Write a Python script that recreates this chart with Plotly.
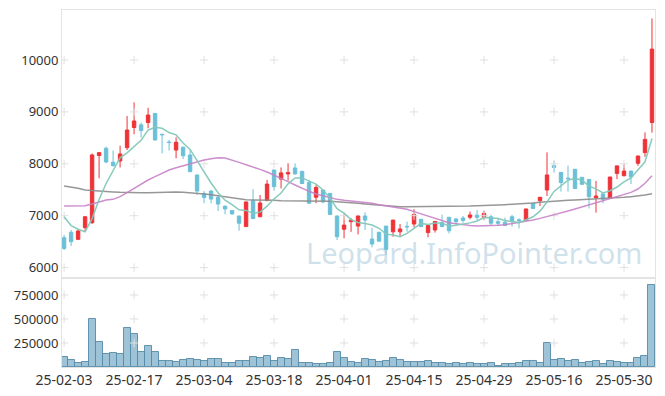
import plotly.graph_objects as go

dates = [
    "25-02-03","25-02-04","25-02-05","25-02-06","25-02-07","25-02-10","25-02-11","25-02-12","25-02-13","25-02-14",
    "25-02-17","25-02-18","25-02-19","25-02-20","25-02-21","25-02-24","25-02-25","25-02-26","25-02-27","25-02-28",
    "25-03-04","25-03-05","25-03-06","25-03-07","25-03-10","25-03-11","25-03-12","25-03-13","25-03-14","25-03-17",
    "25-03-18","25-03-19","25-03-20","25-03-21","25-03-24","25-03-25","25-03-26","25-03-27","25-03-28","25-03-31",
    "25-04-01","25-04-02","25-04-03","25-04-04","25-04-07","25-04-08","25-04-09","25-04-10","25-04-11","25-04-14",
    "25-04-15","25-04-16","25-04-17","25-04-18","25-04-21","25-04-22","25-04-23","25-04-24","25-04-25","25-04-28",
    "25-04-29","25-04-30","25-05-02","25-05-07","25-05-08","25-05-09","25-05-12","25-05-13","25-05-14","25-05-15",
    "25-05-16","25-05-19","25-05-20","25-05-21","25-05-22","25-05-23","25-05-26","25-05-27","25-05-28","25-05-29",
    "25-05-30","25-06-02","25-06-04","25-06-05","25-06-09",
]

opens = [6577,6680,6545,6770,6866,8160,8300,8030,8055,8310,
         8700,8750,8795,8970,8570,8420,8265,8320,8170,7785,
         7430,7475,7350,7185,7100,6995,6790,7290,6980,7290,
         7880,7705,7805,7920,7855,7640,7355,7495,7430,6995,
         6740,6885,6800,6995,6550,6680,6800,6690,6690,6795,
         6840,6930,6675,6725,6870,6970,6935,6955,6970,7010,
         6970,6980,6885,6875,6980,6920,6915,7240,7290,7495,
         7965,7835,7725,7895,7740,7700,7350,7420,7335,7815,
         7770,7860,8010,8215,8795]
highs = [6630,6725,6735,6995,8200,8220,8330,8255,8350,8920,
         9185,8795,9080,8975,8575,8460,8510,8330,8265,7790,
         7475,7495,7400,7190,7110,7000,7270,7510,7400,7690,
         7885,7930,8010,8010,7860,7690,7590,7500,7435,7000,
         7035,6950,7000,7065,6770,6690,6805,6920,6840,6885,
         7125,6935,6815,6895,7020,6975,6960,6995,7080,7110,
         7095,7015,6950,6965,7015,6950,7135,7245,7360,8220,
         8060,7840,7965,7900,7745,7705,7670,7425,7750,7965,
         7990,7865,8155,8605,10800]
lows = [6340,6415,6530,6690,6840,7720,8010,7945,7930,8265,
        8570,8510,8685,8445,8200,8255,8105,8090,7835,7400,
        7240,7240,7090,7025,7020,6710,6785,6940,6975,7285,
        7480,7525,7675,7790,7610,7230,7240,7240,7020,6530,
        6565,6690,6640,6725,6390,6505,6245,6595,6595,6690,
        6775,6780,6585,6675,6785,6660,6830,6865,6930,6915,
        6915,6820,6800,6800,6790,6755,6900,7135,7185,7380,
        7830,7465,7465,7520,7600,7140,7060,7240,7330,7705,
        7760,7610,7960,8135,8600]
closes = [6370,6500,6705,6980,8170,8215,8035,7965,8190,8650,
          8825,8640,8940,8460,8560,8410,8415,8155,7850,7475,
          7350,7320,7225,7130,7035,6855,7265,6945,7245,7610,
          7560,7825,7830,7805,7620,7240,7545,7265,7025,6595,
          6820,6915,6995,6915,6455,6510,6350,6915,6745,6785,
          7025,6790,6810,6890,6790,6710,6885,6910,7015,6970,
          7045,6855,6855,6810,6905,6910,7130,7140,7355,7785,
          7930,7640,7715,7525,7605,7365,7380,7315,7745,7960,
          7860,7750,8150,8470,10210]
volumes = [101000,69800,38500,49000,500000,257000,132000,142000,132000,403000,
           340000,156000,215000,153000,59000,59000,49000,73000,83000,70000,
           59000,80000,80000,45000,38000,59000,59000,108000,90000,111000,
           59000,90000,80000,174000,38000,45000,35000,35000,45000,153000,
           90000,49000,38000,83000,73000,49000,59000,90000,73000,49000,
           49000,49000,59000,38000,38000,28000,38000,28000,38000,28000,
           28000,38000,14000,28000,28000,38000,59000,59000,38000,247000,
           73000,83000,59000,69000,38000,49000,59000,28000,59000,49000,
           38000,38000,90000,111000,854000]
ma5 = [6980,6810,6740,6690,6945,7314,7621,7873,8115,8211,
       8333,8454,8649,8703,8685,8602,8557,8400,8278,8061,
       7849,7630,7444,7300,7212,7113,7102,7046,7069,7184,
       7325,7437,7614,7726,7728,7664,7608,7495,7339,7134,
       7050,6924,6870,6848,6820,6758,6645,6629,6595,6661,
       6764,6852,6831,6860,6861,6798,6817,6837,6862,6898,
       6965,6959,6948,6907,6894,6867,6922,6979,7088,7264,
       7468,7570,7685,7719,7683,7570,7518,7438,7482,7553,
       7652,7726,7893,8038,8488]
ma20 = [7187,7187,7187,7193,7225,7270,7302,7315,7367,7444,
        7527,7611,7688,7752,7816,7880,7925,7964,8009,8041,
        8073,8099,8118,8110,8073,8028,7983,7945,7893,7842,
        7784,7720,7656,7592,7527,7470,7418,7380,7341,7315,
        7296,7283,7277,7264,7238,7213,7187,7168,7148,7123,
        7078,7033,6990,6950,6900,6865,6845,6825,6810,6801,
        6801,6808,6814,6827,6846,6866,6891,6917,6949,6981,
        7020,7058,7091,7129,7168,7206,7251,7283,7330,7360,
        7400,7450,7514,7624,7768]
ma60 = [7572,7553,7527,7495,7482,7470,7463,7457,7450,7444,
        7444,7444,7444,7450,7457,7457,7457,7450,7444,7431,
        7418,7405,7386,7367,7341,7322,7309,7303,7296,7296,
        7296,7290,7290,7290,7290,7283,7283,7283,7277,7270,
        7264,7251,7238,7225,7213,7200,7187,7181,7174,7174,
        7174,7174,7174,7181,7181,7181,7181,7187,7187,7193,
        7193,7200,7206,7213,7219,7225,7238,7245,7258,7270,
        7277,7290,7296,7303,7309,7315,7322,7328,7335,7347,
        7354,7367,7380,7399,7425]

x_ticks = dates[::10]
price_ticks = [6000, 7000, 8000, 9000, 10000]
vol_ticks = [250000, 500000, 750000]

RED = "#ee3237"
BLUE = "#6bc0d8"
GRID = "#e0e0e0"
FONT = "Noto Sans"

fig = go.Figure()

fig.add_trace(go.Candlestick(
    x=dates, open=opens, high=highs, low=lows, close=closes,
    xaxis="x", yaxis="y", whiskerwidth=0,
    increasing=dict(line=dict(color=RED, width=1), fillcolor=RED),
    decreasing=dict(line=dict(color=BLUE, width=1), fillcolor=BLUE),
    hoverinfo="skip"))

fig.add_trace(go.Bar(x=dates, y=volumes, xaxis="x2", yaxis="y2",
                     marker=dict(color="rgba(125,175,200,0.75)",
                                 line=dict(color="rgba(85,140,170,0.9)", width=1)),
                     hoverinfo="skip"))

# grid crosses
fig.add_trace(go.Scatter(
    x=[d for d in x_ticks for _ in price_ticks],
    y=[p for _ in x_ticks for p in price_ticks],
    mode="markers", xaxis="x", yaxis="y",
    marker=dict(symbol="cross-thin", size=6, line=dict(color=GRID, width=1)),
    hoverinfo="skip"))
fig.add_trace(go.Scatter(
    x=[d for d in x_ticks for _ in vol_ticks],
    y=[v for _ in x_ticks for v in vol_ticks],
    mode="markers", xaxis="x2", yaxis="y2",
    marker=dict(symbol="cross-thin", size=6, line=dict(color=GRID, width=1)),
    hoverinfo="skip"))

fig.add_trace(go.Scatter(x=dates, y=ma60, mode="lines", xaxis="x", yaxis="y",
                         line=dict(color="rgba(140,140,140,0.9)", width=1.5), hoverinfo="skip"))
fig.add_trace(go.Scatter(x=dates, y=ma20, mode="lines", xaxis="x", yaxis="y",
                         line=dict(color="rgba(200,130,200,0.9)", width=1.5), hoverinfo="skip"))
fig.add_trace(go.Scatter(x=dates, y=ma5, mode="lines", xaxis="x", yaxis="y",
                         line=dict(color="rgba(130,200,185,0.95)", width=1.5), hoverinfo="skip"))

xrange = [-0.3, len(dates) - 0.57]
split = 0.2493

# the page body has an 8px margin, so the figure is sized to sit inside the window
fig.update_layout(
    width=649, height=380,
    margin=dict(l=54, r=2, t=2, b=21),
    paper_bgcolor="white", plot_bgcolor="white",
    showlegend=False, hovermode=False, bargap=0,
    font=dict(family=FONT, size=13, color="#333333"),
    xaxis=dict(type="category", categoryorder="array", categoryarray=dates,
               domain=[0, 1], anchor="y", range=xrange,
               showticklabels=False, showgrid=False, zeroline=False,
               rangeslider=dict(visible=False), automargin=False,
               showline=True, linecolor="#e3e3e3", linewidth=1, mirror=True, ticks=""),
    yaxis=dict(domain=[split, 1], anchor="x", range=[5800, 10963],
               tickvals=price_ticks, ticktext=[str(p) for p in price_ticks],
               showgrid=False, zeroline=False, ticks="", automargin=False,
               showline=True, linecolor="#e3e3e3", linewidth=1, mirror=True),
    xaxis2=dict(type="category", categoryorder="array", categoryarray=dates,
                domain=[0, 1], anchor="y2", range=xrange,
                tickvals=x_ticks, ticktext=x_ticks, tickangle=0,
                tickfont=dict(size=14),
                showgrid=False, zeroline=False, ticks="", automargin=False,
                showline=True, linecolor="#e3e3e3", linewidth=1, mirror=True,
                matches="x"),
    yaxis2=dict(domain=[0, split], anchor="x2", range=[0, 927000],
                tickvals=vol_ticks, ticktext=[str(v) for v in vol_ticks],
                showgrid=False, zeroline=False, ticks="", automargin=False,
                showline=True, linecolor="#e3e3e3", linewidth=1, mirror=True),
    annotations=[dict(text="Leopard.InfoPointer.com", xref="paper", yref="paper",
                      x=0.695, y=0.322, xanchor="center", yanchor="middle",
                      showarrow=False,
                      font=dict(family=FONT, size=29, color="rgba(160,195,215,0.5)"))],
)

fig.write_html("out.html")
